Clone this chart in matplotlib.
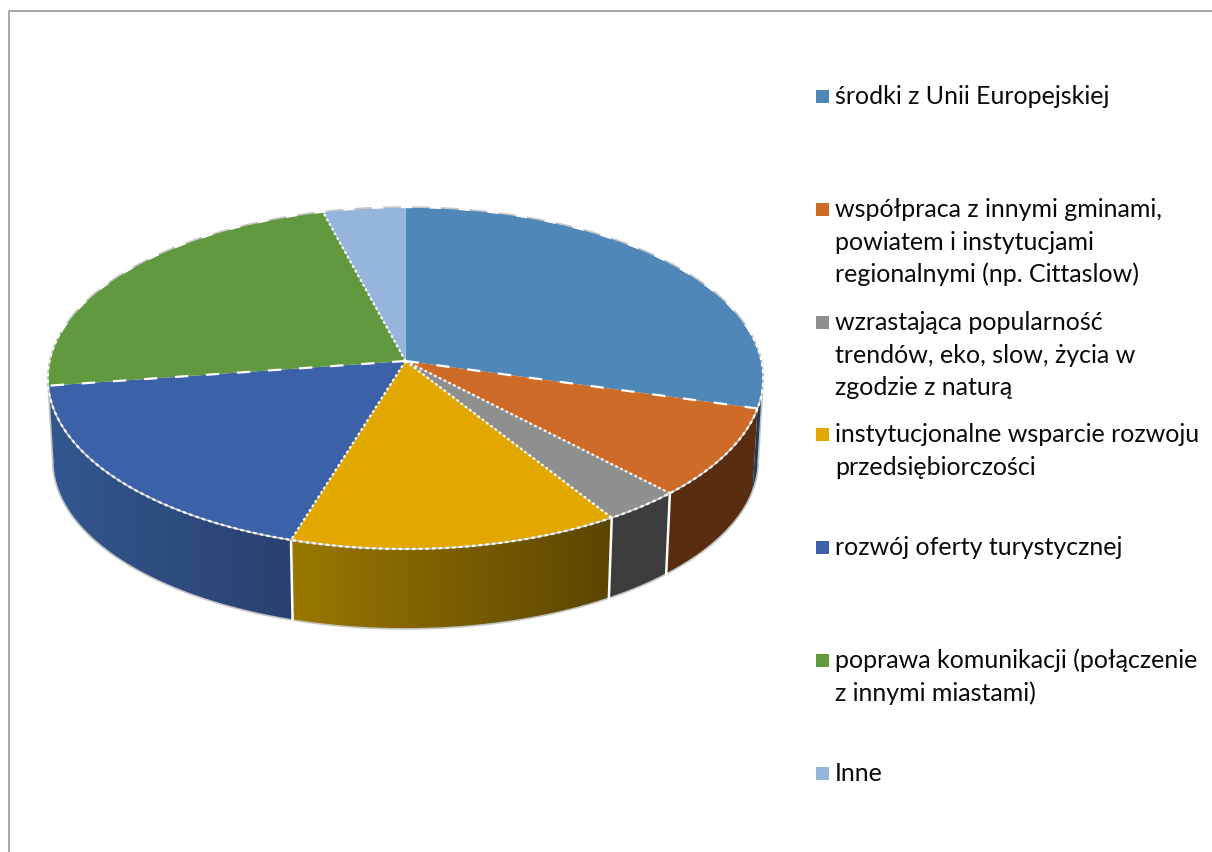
import numpy as np
import matplotlib
matplotlib.use("Agg")
import matplotlib.pyplot as plt
from matplotlib.colors import to_rgb
from matplotlib.patches import Polygon, Rectangle

labels = [
    "środki z Unii Europejskiej",
    "współpraca z innymi gminami,\npowiatem i instytucjami\nregionalnymi (np. Cittaslow)",
    "wzrastająca popularność\ntrendów, eko, slow, życia w\nzgodzie z naturą",
    "instytucjonalne wsparcie rozwoju\nprzedsiębiorczości",
    "rozwój oferty turystycznej",
    "poprawa komunikacji (połączenie\nz innymi miastami)",
    "Inne",
]
values = [29.4, 8.5, 3.2, 13.6, 18.0, 23.2, 4.1]
top_colors = ["#4f87b9", "#ce6b27", "#8f8f8f", "#e2a800", "#3b62a8", "#619a3e", "#95b5dc"]
wall_left = ["#1d3c5e", "#5a2d10", "#3d3d3d", "#9a7800", "#32578f"]
wall_right = ["#1d3c5e", "#5a2d10", "#3d3d3d", "#5b4600", "#29416f"]

legend_baselines = [104, 217, 330, 442, 555, 668, 781]

plt.rcParams["font.family"] = ["Lato", "DejaVu Sans"]

CX, CY = 405.5, 361
A, B, K = 169.3, 356, 0.0995
WALL = 83
LINE_STEP = 32.7
# angles where the top ellipse is widest, the wall is only seen between them
RIGHT_END = np.radians(95.7)
LEFT_END = np.radians(264.3)


def top_xy(theta):
    """Perspective view of the pie's top, theta clockwise from 12 o'clock."""
    u, v = np.sin(theta), np.cos(theta)
    return CX + B * u / (1 + K * v), CY - A * v / (1 + K * v)


def bottom_xy(theta):
    x, y = top_xy(theta)
    return CX + (x - CX) * 0.986, 378 + WALL + (y - 378) * 0.982


fig = plt.figure(figsize=(12.12, 8.52), dpi=100)
ax = fig.add_axes([0, 0, 1, 1])
ax.axis("off")

edges = 2 * np.pi * np.cumsum([0] + values) / sum(values)

# side walls first, only the five front slices show one
for i in range(5):
    start = max(edges[i], RIGHT_END)
    end = max(edges[i + 1], LEFT_END) if i == 4 else edges[i + 1]
    t = np.linspace(start, end, 150)
    xt, yt = top_xy(t)
    xb, yb = bottom_xy(t)
    pts = np.column_stack([np.r_[xt, xb[::-1]], np.r_[yt, yb[::-1]]])
    poly = Polygon(pts, closed=True, fc="none", ec="none")
    ax.add_patch(poly)
    c0, c1 = np.array(to_rgb(wall_left[i])), np.array(to_rgb(wall_right[i]))
    ramp = np.linspace(0, 1, 256)[None, :, None]
    img = ax.imshow(c0 + (c1 - c0) * ramp, aspect="auto", zorder=1,
                    extent=(pts[:, 0].min(), pts[:, 0].max(), pts[:, 1].max(), pts[:, 1].min()))
    img.set_clip_path(poly)

# outline of the wall
t = np.linspace(RIGHT_END, LEFT_END, 300)
ax.plot(*bottom_xy(t), color="#c4c4c4", lw=1.2, zorder=2)
for side in (RIGHT_END, LEFT_END):
    ax.plot([top_xy(side)[0], bottom_xy(side)[0]], [top_xy(side)[1], bottom_xy(side)[1]],
            color="#c4c4c4", lw=1.2, zorder=2)

# white seams between the walls
for e in edges[2:5]:
    ax.plot([top_xy(e)[0], bottom_xy(e)[0]], [top_xy(e)[1], bottom_xy(e)[1]],
            color="white", lw=1.8, zorder=3)

# top of the pie
for i in range(len(values)):
    t = np.linspace(edges[i], edges[i + 1], 150)
    xt, yt = top_xy(t)
    ax.add_patch(Polygon(np.column_stack([np.r_[CX, xt], np.r_[CY, yt]]), closed=True,
                         fc=top_colors[i], ec="none", zorder=4))

t = np.linspace(0, 2 * np.pi, 600)
ax.plot(*top_xy(t), color="#c8c8c8", lw=1.2, zorder=5)
front = np.linspace(np.radians(80), np.radians(280), 400)
back = np.linspace(np.radians(280), np.radians(440), 400)
ax.plot(*top_xy(front), color="white", lw=1.6, ls=(0, (1.5, 1.5)), zorder=6)
ax.plot(*top_xy(back), color="white", lw=1.6, ls=(0, (5, 8)), zorder=6)

for e in edges[1:-1]:
    x, y = top_xy(e)
    flat = abs((y - CY) / (x - CX)) < 0.2
    ax.plot([CX, x], [CY, y], color="white", lw=1.6,
            ls=(0, (6, 8)) if flat else (0, (1.2, 1.2)), zorder=6)

# legend, lines placed one by one to keep the first baseline fixed
for base, name, col in zip(legend_baselines, labels, top_colors):
    ax.add_patch(Rectangle((816, base - 14), 13, 13, fc=col, ec="none", zorder=7))
    for n, line in enumerate(name.split("\n")):
        ax.text(835, base + n * LINE_STEP, line, fontsize=18, color="#0a0a0a",
                va="baseline", ha="left", zorder=7)

# frame of the chart area, cut off at the image edge
ax.plot([8.5, 8.5, 1212], [852, 10.5, 10.5], color="#a6a6a6", lw=1.4, zorder=8)

ax.set_xlim(0, 1212)
ax.set_ylim(852, 0)
fig.savefig("out.png", dpi=100)
